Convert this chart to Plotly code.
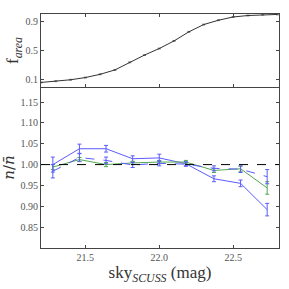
import plotly.graph_objects as go
from plotly.subplots import make_subplots

# top panel: cumulative area fraction
sky_top = [21.2, 21.3, 21.4, 21.5, 21.6, 21.7, 21.8, 21.9, 22.0, 22.1, 22.2, 22.3, 22.4, 22.5, 22.6, 22.7, 22.8]
f_area = [0.063, 0.08, 0.10, 0.13, 0.175, 0.235, 0.34, 0.44, 0.53, 0.635, 0.76, 0.86, 0.92, 0.965, 0.985, 0.997, 1.0]

# bottom panel
sky = [21.28, 21.46, 21.64, 21.82, 22.00, 22.18, 22.37, 22.55, 22.73]
blue_solid = [1.000, 1.038, 1.038, 1.014, 1.016, 1.002, 0.966, 0.955, 0.892]
blue_solid_err = [0.018, 0.011, 0.008, 0.007, 0.009, 0.005, 0.007, 0.008, 0.015]
green = [0.994, 1.012, 1.000, 1.004, 1.006, 1.006, 0.986, 0.990, 0.944]
green_err = [0.006, 0.005, 0.005, 0.004, 0.004, 0.004, 0.005, 0.006, 0.015]
blue_dash = [0.984, 1.017, 1.010, 0.999, 1.003, 1.001, 0.991, 0.989, 0.971]
blue_dash_err = [0.016, 0.009, 0.008, 0.006, 0.006, 0.005, 0.006, 0.008, 0.017]

BLUE = "#5b5bff"
GREEN = "#52a852"
FONT = "Liberation Serif"

fig = make_subplots(rows=2, cols=1, shared_xaxes=False, vertical_spacing=0,
                    row_heights=[0.312, 0.688])

fig.add_trace(go.Scatter(x=sky_top, y=f_area, mode="lines",
                         line=dict(color="#333333", width=1),
                         error_y=dict(type="constant", value=0.006, color="#333333", thickness=0.6, width=1.5),
                         showlegend=False), row=1, col=1)

fig.add_trace(go.Scatter(x=sky, y=blue_solid, mode="lines",
                         line=dict(color=BLUE, width=1),
                         error_y=dict(type="data", array=blue_solid_err, color=BLUE, thickness=1, width=2),
                         showlegend=False), row=2, col=1)
fig.add_trace(go.Scatter(x=sky, y=green, mode="lines",
                         line=dict(color=GREEN, width=1),
                         error_y=dict(type="data", array=green_err, color=GREEN, thickness=1, width=2),
                         showlegend=False), row=2, col=1)
fig.add_trace(go.Scatter(x=sky, y=blue_dash, mode="lines",
                         line=dict(color=BLUE, width=1, dash="dash"),
                         error_y=dict(type="data", array=blue_dash_err, color=BLUE, thickness=1, width=2),
                         showlegend=False), row=2, col=1)

fig.add_shape(type="line", xref="x2", yref="y2", x0=21.2, x1=22.81, y0=1.0, y1=1.0,
              line=dict(color="black", width=1, dash="dash"))

axis_common = dict(showline=True, linecolor="#444444", linewidth=1, mirror="ticks",
                   ticks="inside", ticklen=3, tickcolor="#444444", showgrid=False, zeroline=False,
                   automargin=False,
                   tickfont=dict(family=FONT, size=10, color="#555555"))

fig.update_xaxes(range=[21.2, 22.81], tickvals=[21.5, 22.0, 22.5], showticklabels=False,
                 row=1, col=1, **axis_common)
bottom_x = dict(axis_common)
bottom_x["mirror"] = False
fig.update_xaxes(range=[21.2, 22.81], tickvals=[21.5, 22.0, 22.5], ticktext=["21.5", "22.0", "22.5"],
                 title=dict(text="sky<sub><i>SCUSS</i></sub> (mag)", font=dict(family=FONT, size=17, color="#333333"),
                            standoff=2),
                 row=2, col=1, **bottom_x)
fig.update_yaxes(range=[0.0, 1.006], tickvals=[0.1, 0.5, 0.9], ticktext=["0.1", "0.5", "0.9"],
                 title=dict(text="f<sub><i>area</i></sub>", font=dict(family=FONT, size=17, color="#333333"),
                            standoff=2),
                 row=1, col=1, **axis_common)
fig.update_yaxes(range=[0.80, 1.186], tickvals=[0.85, 0.90, 0.95, 1.00, 1.05, 1.10, 1.15],
                 ticktext=["0.85", "0.90", "0.95", "1.00", "1.05", "1.10", "1.15"],
                 title=dict(text="<i>n</i>/<i>n̄</i>", font=dict(family="DejaVu Serif", size=15, color="#333333"),
                            standoff=2),
                 row=2, col=1, **axis_common)

fig.update_layout(width=289, height=289, margin=dict(l=41, r=10, t=14, b=41),
                  paper_bgcolor="white", plot_bgcolor="white", showlegend=False)

fig.write_html("out.html", config={"displayModeBar": False},
               post_script="document.body.style.margin='0';")
